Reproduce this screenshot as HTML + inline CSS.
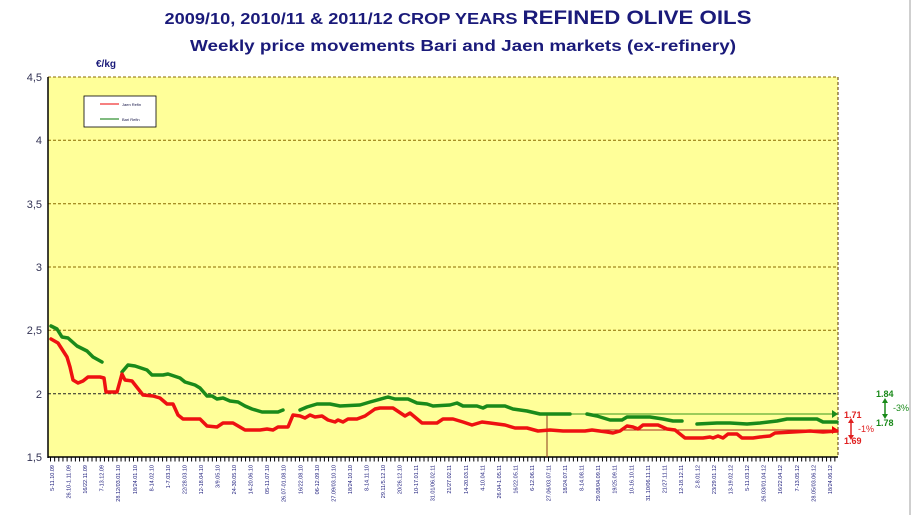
<!DOCTYPE html>
<html><head><meta charset="utf-8"><style>
html,body{margin:0;padding:0;background:#fff;}
svg{display:block;font-family:"Liberation Sans",Arial,sans-serif;}
</style></head><body>
<svg width="914" height="515" viewBox="0 0 914 515" xmlns="http://www.w3.org/2000/svg">
<rect x="0" y="0" width="914" height="515" fill="#fff"/>
<line x1="910" y1="0" x2="910" y2="515" stroke="#cfcfcf" stroke-width="2"/>
<text x="458" y="24" text-anchor="middle" fill="#1a1a7a" font-weight="bold" font-size="15.5" textLength="587" lengthAdjust="spacingAndGlyphs"><tspan>2009/10, 2010/11 &amp; 2011/12 CROP YEARS </tspan><tspan font-size="19">REFINED OLIVE OILS</tspan></text>
<text x="463" y="51" text-anchor="middle" fill="#1a1a7a" font-weight="bold" font-size="16" textLength="546" lengthAdjust="spacingAndGlyphs">Weekly  price movements Bari  and Jaen markets (ex-refinery)</text>
<text x="96" y="67" fill="#1a1a7a" font-weight="bold" font-size="10">€/kg</text>
<rect x="48" y="77" width="790" height="380" fill="#ffff99"/>
<g stroke="#8a6a00" stroke-width="1" stroke-dasharray="3,2">
<line x1="48" y1="77" x2="838" y2="77"/>
<line x1="48" y1="140.3" x2="838" y2="140.3"/>
<line x1="48" y1="203.7" x2="838" y2="203.7"/>
<line x1="48" y1="267" x2="838" y2="267"/>
<line x1="48" y1="330.3" x2="838" y2="330.3"/>
<line x1="48" y1="393.7" x2="838" y2="393.7" stroke="#222"/>
<line x1="838" y1="77" x2="838" y2="457" stroke="#553300"/>
</g>
<line x1="48" y1="77" x2="48" y2="458" stroke="#000" stroke-width="1.5"/>
<line x1="48" y1="457" x2="838" y2="457" stroke="#000" stroke-width="1.5"/>
<line x1="50" y1="459.5" x2="838" y2="459.5" stroke="#000" stroke-width="4" stroke-dasharray="1,3.15"/>
<g fill="#333355" font-size="11" text-anchor="end">
<text x="42" y="81">4,5</text><text x="42" y="144">4</text><text x="42" y="208">3,5</text>
<text x="42" y="271">3</text><text x="42" y="334">2,5</text><text x="42" y="398">2</text><text x="42" y="461">1,5</text>
</g>
<rect x="84" y="96" width="72" height="31" fill="#fff" stroke="#000" stroke-width="0.8"/>
<line x1="100" y1="104" x2="119" y2="104" stroke="#e00" stroke-width="1"/>
<line x1="100" y1="119" x2="119" y2="119" stroke="#070" stroke-width="1"/>
<text x="122" y="106" font-size="4" fill="#114">Jaen Refin</text>
<text x="122" y="121" font-size="4" fill="#114">Bari Refin</text>
<line x1="547" y1="413" x2="547" y2="457" stroke="#8a3a1a" stroke-width="1"/>
<line x1="547" y1="414" x2="832" y2="414" stroke="#3a9a1a" stroke-width="1"/>
<polygon points="832,410 838,414 832,418" fill="#1a8a1a"/>
<line x1="547" y1="430" x2="832" y2="430" stroke="#aa2a1a" stroke-width="1"/>
<polygon points="832,426 838,430 832,434" fill="#e00"/>
<g fill="none" stroke-width="3.5" stroke-linejoin="round" stroke-linecap="round">
<polyline stroke="#1a8a1a" points="51,326 57,329 62,337 68,338 77,346 87,351 93,357 102,362"/>
<polyline stroke="#1a8a1a" points="122,372 128,365 135,366 147,370 152,375 163,375 168,374 180,378 185,382 195,385 200,388 207,396 212,396 217,399 223,398 230,401 238,402 245,406 252,409 262,412 278,412 283,410"/>
<polyline stroke="#1a8a1a" points="300,410 307,407 317,404 330,404 340,406 360,405 370,402 388,397 395,399 408,399 417,403 427,404 433,406 450,405 457,403 463,406 477,406 483,408 487,406 505,406 513,409 527,411 540,414 570,414"/>
<polyline stroke="#1a8a1a" points="587,414 597,416 610,420 622,420 627,417 650,417 663,419 673,421 682,421"/>
<polyline stroke="#1a8a1a" points="697,424 717,423 730,423 747,424 760,423 777,421 787,419 817,419 823,422 837,422"/>
<polyline stroke="#ee1111" points="51,339 58,343 67,357 70,367 73,380 78,383 83,381 88,377 100,377 104,378 106,392 117,392 122,374 125,380 132,381 143,395 153,396 160,398 167,404 173,404 178,415 183,419 200,419 207,426 217,427 223,423 233,423 245,430 260,430 267,429 273,430 278,427 288,427 293,415 300,416 305,418 310,415 315,417 322,416 328,420 335,422 338,420 343,422 348,419 357,419 365,416 375,409 380,408 393,408 405,416 410,413 422,423 437,423 443,419 453,419 463,422 472,425 482,422 490,423 505,425 515,428 527,428 538,431 550,430 563,431 585,431 592,430 607,432 613,433 620,431 627,426 633,427 638,429 643,425 658,425 667,429 675,430 680,434 685,438 703,438 710,437 713,438 718,436 723,438 728,434 737,434 742,438 753,438 760,437 770,436 775,433 793,432 810,431 823,432 837,431"/>
</g>
<g font-size="9" font-weight="bold">
<text x="844" y="418" fill="#e02020">1.71</text>
<text x="844" y="444" fill="#e02020">1.69</text>
<text x="858" y="432" fill="#e02020" font-weight="normal">-1%</text>
<text x="876" y="397" fill="#1a8a1a">1.84</text>
<text x="876" y="426" fill="#1a8a1a">1.78</text>
<text x="893" y="411" fill="#1a8a1a" font-weight="normal">-3%</text>
</g>
<line x1="851" y1="422" x2="851" y2="436" stroke="#e02020" stroke-width="1.5"/>
<polygon points="848,423 851,418 854,423" fill="#e02020"/><polygon points="848,435 851,440 854,435" fill="#e02020"/>
<line x1="885" y1="401" x2="885" y2="416" stroke="#1a8a1a" stroke-width="1.5"/>
<polygon points="882,403 885,398 888,403" fill="#1a8a1a"/><polygon points="882,414 885,419 888,414" fill="#1a8a1a"/>
<g fill="#1a1a7a" font-size="5.5" text-anchor="end">
<text transform="translate(54,465) rotate(-90)">5-11.10.09</text>
<text transform="translate(70.6,465) rotate(-90)">26.10-1.11.09</text>
<text transform="translate(87.1,465) rotate(-90)">16/22.11.09</text>
<text transform="translate(103.7,465) rotate(-90)">7-13.12.09</text>
<text transform="translate(120.2,465) rotate(-90)">28.12/03.01.10</text>
<text transform="translate(136.8,465) rotate(-90)">18/24.01.10</text>
<text transform="translate(153.3,465) rotate(-90)">8-14.02.10</text>
<text transform="translate(169.9,465) rotate(-90)">1-7.03.10</text>
<text transform="translate(186.4,465) rotate(-90)">22/28.03.10</text>
<text transform="translate(203,465) rotate(-90)">12-18.04.10</text>
<text transform="translate(219.5,465) rotate(-90)">3/9.05.10</text>
<text transform="translate(236.1,465) rotate(-90)">24-30.05.10</text>
<text transform="translate(252.6,465) rotate(-90)">14-20.06.10</text>
<text transform="translate(269.2,465) rotate(-90)">05-11.07.10</text>
<text transform="translate(285.7,465) rotate(-90)">26.07-01.08.10</text>
<text transform="translate(302.3,465) rotate(-90)">16/22.08.10</text>
<text transform="translate(318.8,465) rotate(-90)">06-12.09.10</text>
<text transform="translate(335.4,465) rotate(-90)">27.09/03.10.10</text>
<text transform="translate(351.9,465) rotate(-90)">18/24.10.10</text>
<text transform="translate(368.5,465) rotate(-90)">8-14.11.10</text>
<text transform="translate(385,465) rotate(-90)">29.11/5.12.10</text>
<text transform="translate(401.6,465) rotate(-90)">20/26.12.10</text>
<text transform="translate(418.1,465) rotate(-90)">10-17.01.11</text>
<text transform="translate(434.7,465) rotate(-90)">31.01/06.02.11</text>
<text transform="translate(451.2,465) rotate(-90)">21/27.02.11</text>
<text transform="translate(467.8,465) rotate(-90)">14-20.03.11</text>
<text transform="translate(484.3,465) rotate(-90)">4-10.04.11</text>
<text transform="translate(500.9,465) rotate(-90)">26.04-1.05.11</text>
<text transform="translate(517.4,465) rotate(-90)">16/22.05.11</text>
<text transform="translate(534,465) rotate(-90)">6-12.06.11</text>
<text transform="translate(550.5,465) rotate(-90)">27.06/03.07.11</text>
<text transform="translate(567.1,465) rotate(-90)">18/24.07.11</text>
<text transform="translate(583.6,465) rotate(-90)">8-14.08.11</text>
<text transform="translate(600.2,465) rotate(-90)">29.08/04.09.11</text>
<text transform="translate(616.7,465) rotate(-90)">19/25.09.11</text>
<text transform="translate(633.3,465) rotate(-90)">10-16.10.11</text>
<text transform="translate(649.8,465) rotate(-90)">31.10/06.11.11</text>
<text transform="translate(666.4,465) rotate(-90)">21/27.11.11</text>
<text transform="translate(682.9,465) rotate(-90)">12-18.12.11</text>
<text transform="translate(699.5,465) rotate(-90)">2-8.01.12</text>
<text transform="translate(716,465) rotate(-90)">23/29.01.12</text>
<text transform="translate(732.6,465) rotate(-90)">13-19.02.12</text>
<text transform="translate(749.1,465) rotate(-90)">5-11.03.12</text>
<text transform="translate(765.7,465) rotate(-90)">26.03/01.04.12</text>
<text transform="translate(782.2,465) rotate(-90)">16/22.04.12</text>
<text transform="translate(798.8,465) rotate(-90)">7-13.05.12</text>
<text transform="translate(815.3,465) rotate(-90)">28.05/03.06.12</text>
<text transform="translate(831.9,465) rotate(-90)">18/24.06.12</text>
</g>
</svg>
</body></html>
